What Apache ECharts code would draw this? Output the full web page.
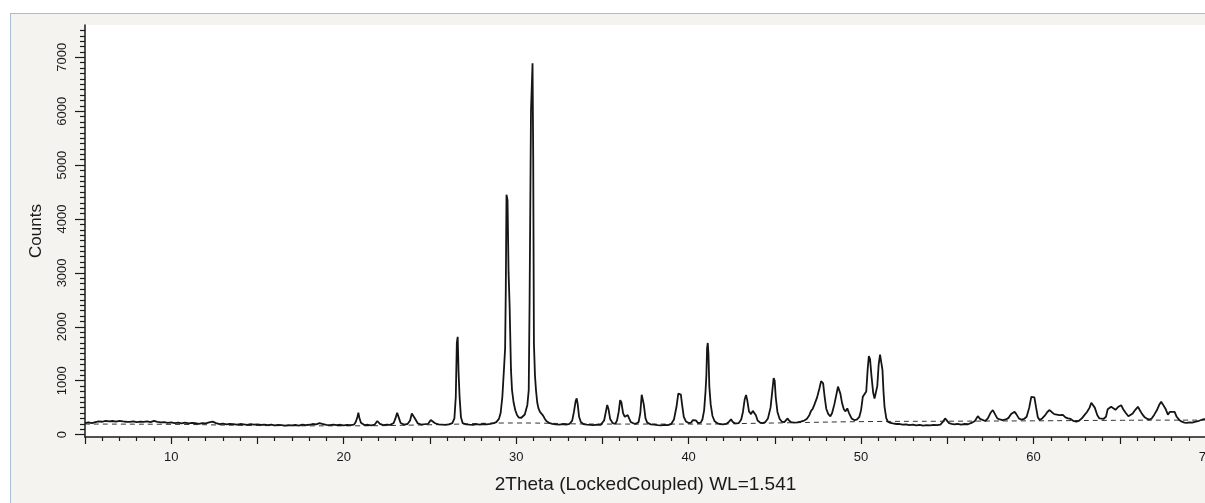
<!DOCTYPE html>
<html>
<head>
<meta charset="utf-8">
<script src="https://cdn.jsdelivr.net/npm/echarts/dist/echarts.min.js"></script>
<style>
  html, body { margin: 0; padding: 0; background: #ffffff; overflow: hidden; }
  #frame { position: absolute; left: 10px; top: 13px; width: 1220px; height: 520px;
           background: #f4f3f0; border: 1px solid #a9bcd6; }
  #chart { position: absolute; left: 0; top: 0; width: 1205px; height: 503px; }
</style>
</head>
<body>
<div id="frame"></div>
<div id="chart"></div>
<script>
// ---- Data (2Theta in degrees, Counts) ----
const scan05to20 = [[5.0,212],[5.2,226],[5.4,214],[5.6,232],[5.8,246],[6.0,238],[6.2,256],[6.4,244],[6.6,252],[6.8,240],[7.0,256],[7.2,244],[7.4,238],[7.6,234],[7.8,246],[8.0,230],[8.2,240],[8.4,234],[8.6,246],[8.8,230],[9.0,254],[9.2,236],[9.4,226],[9.6,232],[9.8,216],[10.0,226],[10.2,214],[10.4,222],[10.6,208],[10.8,220],[11.0,206],[11.2,216],[11.4,210],[11.6,200],[11.8,214],[12.0,208],[12.2,226],[12.4,240],[12.6,214],[12.8,194],[13.0,204],[13.2,190],[13.4,200],[13.6,194],[13.8,184],[14.0,196],[14.2,188],[14.4,180],[14.6,194],[14.8,184],[15.0,190],[15.2,180],[15.4,186],[15.6,174],[15.8,186],[16.0,170],[16.2,180],[16.4,174],[16.6,166],[16.8,176],[17.0,170],[17.2,180],[17.4,166],[17.6,186],[17.8,176],[18.0,182],[18.2,196],[18.4,190],[18.6,212],[18.8,196],[19.0,180],[19.2,174],[19.4,186],[19.6,176],[19.8,182],[20.0,170],[20.2,180],[20.4,176]];

const scan20to28 = [[20.6,186],[20.7,232],[20.8,330],[20.85,405],[20.9,322],[21.0,220],[21.1,190],[21.2,176],[21.4,182],[21.6,170],[21.8,186],[21.95,252],[22.1,200],[22.3,176],[22.5,186],[22.7,180],[22.9,214],[23.0,300],[23.1,405],[23.2,310],[23.3,214],[23.5,186],[23.7,196],[23.85,262],[23.95,390],[24.05,402],[24.15,290],[24.3,206],[24.5,186],[24.7,192],[24.9,200],[25.05,270],[25.15,286],[25.3,210],[25.5,190],[25.7,186],[25.9,180],[26.1,190],[26.3,214],[26.42,300],[26.5,700],[26.56,1700],[26.61,1815],[26.66,1160],[26.72,700],[26.8,320],[26.9,212],[27.1,190],[27.3,184],[27.5,180],[27.7,192],[27.9,186],[28.1,196],[28.3,190],[28.5,200],[28.7,212]];

const scan28to32 = [[28.85,232],[29.0,290],[29.1,400],[29.2,700],[29.3,1250],[29.36,1600],[29.4,2700],[29.44,4450],[29.5,4350],[29.56,3000],[29.62,2400],[29.7,1200],[29.76,825],[29.85,600],[29.95,452],[30.05,362],[30.15,316],[30.22,300],[30.3,312],[30.4,340],[30.5,372],[30.57,395],[30.65,550],[30.73,825],[30.78,2500],[30.86,6000],[30.92,6010],[30.95,6890],[30.99,5100],[31.03,1700],[31.09,1100],[31.15,825],[31.22,600],[31.29,490],[31.38,420],[31.46,392],[31.54,362],[31.65,300],[31.75,252],[31.85,226],[31.95,212]];

const scan32to40 = [[32.1,200],[32.3,190],[32.5,184],[32.7,196],[32.9,186],[33.1,200],[33.25,260],[33.35,420],[33.45,620],[33.51,672],[33.57,560],[33.65,330],[33.75,232],[33.9,196],[34.1,186],[34.3,180],[34.5,174],[34.7,186],[34.9,180],[35.0,196],[35.1,262],[35.2,420],[35.28,548],[35.35,480],[35.45,290],[35.6,212],[35.75,200],[35.85,262],[35.95,430],[36.03,640],[36.1,600],[36.2,400],[36.3,330],[36.4,342],[36.47,362],[36.55,300],[36.65,232],[36.8,210],[36.95,200],[37.1,232],[37.2,400],[37.28,740],[37.34,765],[37.4,560],[37.5,300],[37.6,222],[37.8,190],[38.0,184],[38.2,176],[38.4,170],[38.6,180],[38.8,174],[39.0,200],[39.15,280],[39.3,520],[39.4,760],[39.47,795],[39.55,740],[39.62,560],[39.72,330],[39.85,242],[40.0,214],[40.15,222],[40.25,270],[40.34,300],[40.42,262],[40.55,214]];

const scan40to46 = [[40.7,222],[40.8,280],[40.9,450],[40.98,800],[41.03,1100],[41.07,1600],[41.11,1700],[41.15,1500],[41.2,900],[41.28,560],[41.38,350],[41.5,252],[41.65,212],[41.8,196],[42.0,190],[42.2,200],[42.35,240],[42.46,285],[42.55,240],[42.7,206],[42.9,212],[43.05,280],[43.15,420],[43.25,650],[43.33,735],[43.4,640],[43.5,430],[43.62,380],[43.72,440],[43.81,455],[43.9,360],[44.0,262],[44.15,222],[44.3,214],[44.45,232],[44.6,300],[44.75,500],[44.85,800],[44.93,1050],[44.99,1000],[45.05,700],[45.15,420],[45.28,290],[45.4,242],[45.55,230],[45.65,262],[45.74,300],[45.82,260],[45.95,230]];

const scan46to52 = [[46.1,220],[46.3,226],[46.5,240],[46.7,260],[46.85,290],[47.0,360],[47.1,440],[47.2,480],[47.3,560],[47.45,690],[47.58,850],[47.68,990],[47.74,1020],[47.8,950],[47.88,720],[47.98,480],[48.1,380],[48.22,340],[48.32,400],[48.45,560],[48.58,760],[48.66,890],[48.72,900],[48.8,760],[48.9,580],[49.0,470],[49.1,430],[49.2,485],[49.3,400],[49.45,300],[49.6,270],[49.75,276],[49.9,330],[50.0,454],[50.1,700],[50.2,720],[50.3,800],[50.38,1200],[50.45,1455],[50.52,1400],[50.6,1100],[50.7,780],[50.78,670],[50.86,700],[50.94,900],[51.02,1300],[51.1,1485],[51.16,1460],[51.24,1200],[51.3,800],[51.36,515],[51.46,305],[51.55,240],[51.7,216],[51.85,206]];

const scan52to70 = [[52.04,196],[52.2,200],[52.4,186],[52.6,190],[52.8,176],[53.0,186],[53.2,170],[53.4,180],[53.6,166],[53.8,176],[54.0,170],[54.2,180],[54.4,176],[54.6,186],[54.75,240],[54.87,300],[54.97,280],[55.1,212],[55.25,200],[55.4,190],[55.6,200],[55.8,186],[55.9,194],[56.0,196],[56.2,192],[56.4,216],[56.6,252],[56.77,342],[56.9,292],[57.0,270],[57.2,252],[57.35,300],[57.5,400],[57.64,455],[57.75,390],[57.9,300],[58.05,280],[58.2,270],[58.4,280],[58.55,310],[58.7,380],[58.8,410],[58.9,422],[59.0,380],[59.15,300],[59.3,276],[59.45,290],[59.6,330],[59.75,500],[59.87,700],[59.96,735],[60.05,690],[60.15,500],[60.25,320],[60.35,270],[60.5,300],[60.65,350],[60.8,420],[60.93,455],[61.05,420],[61.2,380],[61.35,370],[61.5,360],[61.6,376],[61.7,366],[61.85,320],[62.0,300],[62.15,290],[62.3,256],[62.48,240],[62.65,260],[62.8,300],[62.95,360],[63.1,420],[63.25,500],[63.35,590],[63.44,610],[63.55,500],[63.7,360],[63.82,300],[63.93,276],[64.05,290],[64.2,330],[64.3,470],[64.4,440],[64.5,515],[64.6,480],[64.75,460],[64.9,510],[65.08,546],[65.2,470],[65.35,400],[65.5,340],[65.6,330],[65.75,390],[65.9,460],[66.05,515],[66.15,460],[66.3,380],[66.45,320],[66.6,290],[66.73,278],[66.85,300],[67.0,370],[67.15,450],[67.3,560],[67.4,610],[67.5,560],[67.65,480],[67.79,370],[67.9,420],[68.0,400],[68.18,422],[68.3,330],[68.45,272],[68.6,240],[68.75,222],[68.9,216],[69.05,226],[69.2,220],[69.4,240],[69.6,256],[69.8,280],[70.0,290]];

// Background (dashed) curve
const backgroundCurve = [[5,195],[10,190],[15,168],[20,162],[25,182],[30,215],[35,195],[40,195],[45,215],[50,240],[55,248],[60,255],[65,265],[68,268],[70,268]];

// Axis tick values
const yLabelValues = [0,1000,2000,3000,4000,5000,6000,7000];
const yMinorValues = [];
for (let v = 100; v <= 7500; v += 100) { if (v % 1000 !== 0) yMinorValues.push(v); }
const xLabelValues = [10,20,30,40,50,60,70];

const scan = [].concat(scan05to20, scan20to28, scan28to32, scan32to40, scan40to46, scan46to52, scan52to70);

const chart = echarts.init(document.getElementById('chart'), null, {renderer: 'canvas'});
const FONT = '"Liberation Sans", Arial, sans-serif';
chart.setOption({
  animation: false,
  backgroundColor: 'transparent',
  grid: { left: 85, top: 25, width: 1121, height: 412, show: true, backgroundColor: '#ffffff', borderWidth: 0, containLabel: false, outerBoundsMode: 'none' },
  xAxis: {
    type: 'value', min: 5, max: 70, interval: 5,
    name: '2Theta (LockedCoupled) WL=1.541', nameLocation: 'middle', nameGap: 38,
    nameTextStyle: { fontFamily: FONT, fontSize: 19, color: '#1a1a1a' },
    axisLine: { show: true, onZero: false, lineStyle: { color: '#1a1a1a', width: 1.5 } },
    axisTick: { show: true, length: 7, lineStyle: { color: '#1a1a1a', width: 1.2 } },
    minorTick: { show: true, splitNumber: 5, length: 4, lineStyle: { color: '#1a1a1a', width: 1.2 } },
    axisLabel: { customValues: xLabelValues, fontFamily: FONT, fontSize: 13, color: '#1a1a1a', margin: 14, showMaxLabel: true, hideOverlap: false,
                 formatter: function (v) { return String(v); } },
    splitLine: { show: false }
  },
  yAxis: [{
    type: 'value', min: -45, max: 7600,
    name: 'Counts', nameLocation: 'middle', nameGap: 40,
    nameTextStyle: { fontFamily: FONT, fontSize: 17, color: '#1a1a1a' },
    axisLine: { show: true, lineStyle: { color: '#1a1a1a', width: 1.5 } },
    axisTick: { show: true, customValues: yLabelValues, length: 10, lineStyle: { color: '#1a1a1a', width: 1.2 } },
    axisLabel: { customValues: yLabelValues, rotate: 90, fontFamily: FONT, fontSize: 13, color: '#1a1a1a', margin: 16,
                 formatter: function (v) { return String(v); } },
    splitLine: { show: false }
  }, {
    type: 'value', min: -45, max: 7600, position: 'left', offset: 0,
    axisLine: { show: false },
    axisTick: { show: true, customValues: yMinorValues, length: 5, lineStyle: { color: '#1a1a1a', width: 1.2 } },
    axisLabel: { show: false },
    splitLine: { show: false }
  }],
  series: [{
    type: 'line', data: backgroundCurve, smooth: true, showSymbol: false, silent: true,
    lineStyle: { color: '#333', width: 1, type: [5, 4] }, z: 2
  }, {
    type: 'line', data: scan, showSymbol: false, silent: true,
    lineStyle: { color: '#151515', width: 1.8 }, z: 3
  }]
});
</script>
</body>
</html>
